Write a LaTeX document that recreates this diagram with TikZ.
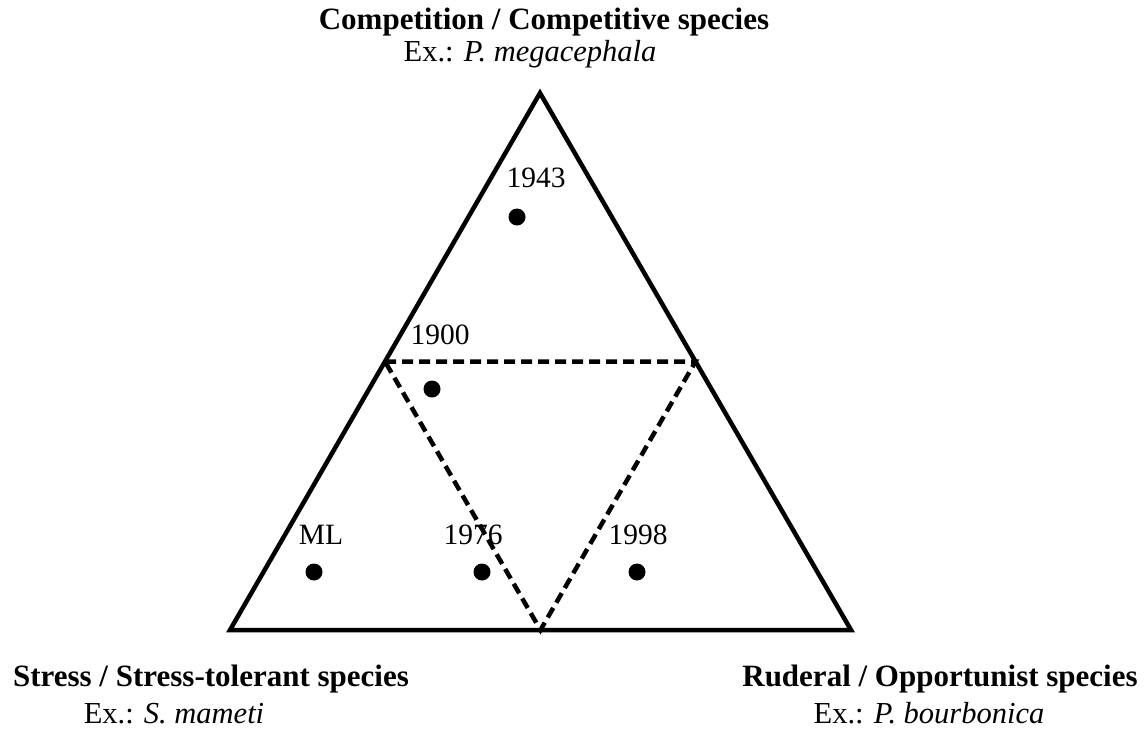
\documentclass[tikz,border=0pt]{standalone}
\usepackage{fontspec}
\setmainfont{Liberation Serif}
\begin{document}
\begin{tikzpicture}[x=1pt,y=-1pt,
  edge/.style={line width=4.5pt, line join=miter},
  mid/.style={line width=4.5pt, dash pattern=on 11pt off 6pt},
  dot/.style={circle, fill=black, inner sep=0pt, minimum size=17pt},
  num/.style={font=\fontsize{29.5}{31}\selectfont, inner sep=0pt},
  head/.style={font=\bfseries\fontsize{31}{34}\selectfont, inner sep=0pt, anchor=base},
  ex/.style={font=\fontsize{30.5}{32}\selectfont, inner sep=0pt, anchor=base}]
\useasboundingbox (0,0) rectangle (1147,734);
\coordinate (T) at (540,93);
\coordinate (L) at (230,630);
\coordinate (R) at (851,630);
\coordinate (mL) at (385,361.5);
\coordinate (mR) at (695.5,361.5);
\coordinate (mB) at (540.5,630);
\draw[edge] (T) -- (L) -- (R) -- cycle;
\draw[mid] (mL) -- (mR) -- (mB) -- cycle;
% points
\node[dot] (d1943) at (517,217) {};
\node[dot] (d1900) at (432,389) {};
\node[dot] (dML) at (314,572) {};
\node[dot] (d1976) at (482,572) {};
\node[dot] (d1998) at (637,572) {};
\node[num] (l1943) at (536,178) {1943};
\node[num] (l1900) at (440,335) {1900};
\node[num] (lML) at (321,535) {ML};
\node[num] (l1976) at (473,535) {1976};
\node[num] (l1998) at (638,535) {1998};
% corner labels
\node[head] (hC) at (544,29) {Competition / Competitive species};
\node[ex] (eC) at (530,61) {Ex.: \textit{P. megacephala}};
\node[head] (hS) at (211,686) {Stress / Stress-tolerant species};
\node[ex] (eS) at (174,723) {Ex.: \textit{S. mameti}};
\node[head] (hR) at (940,686) {Ruderal / Opportunist species};
\node[ex] (eR) at (929,723) {Ex.: \textit{P. bourbonica}};
\end{tikzpicture}
\end{document}
